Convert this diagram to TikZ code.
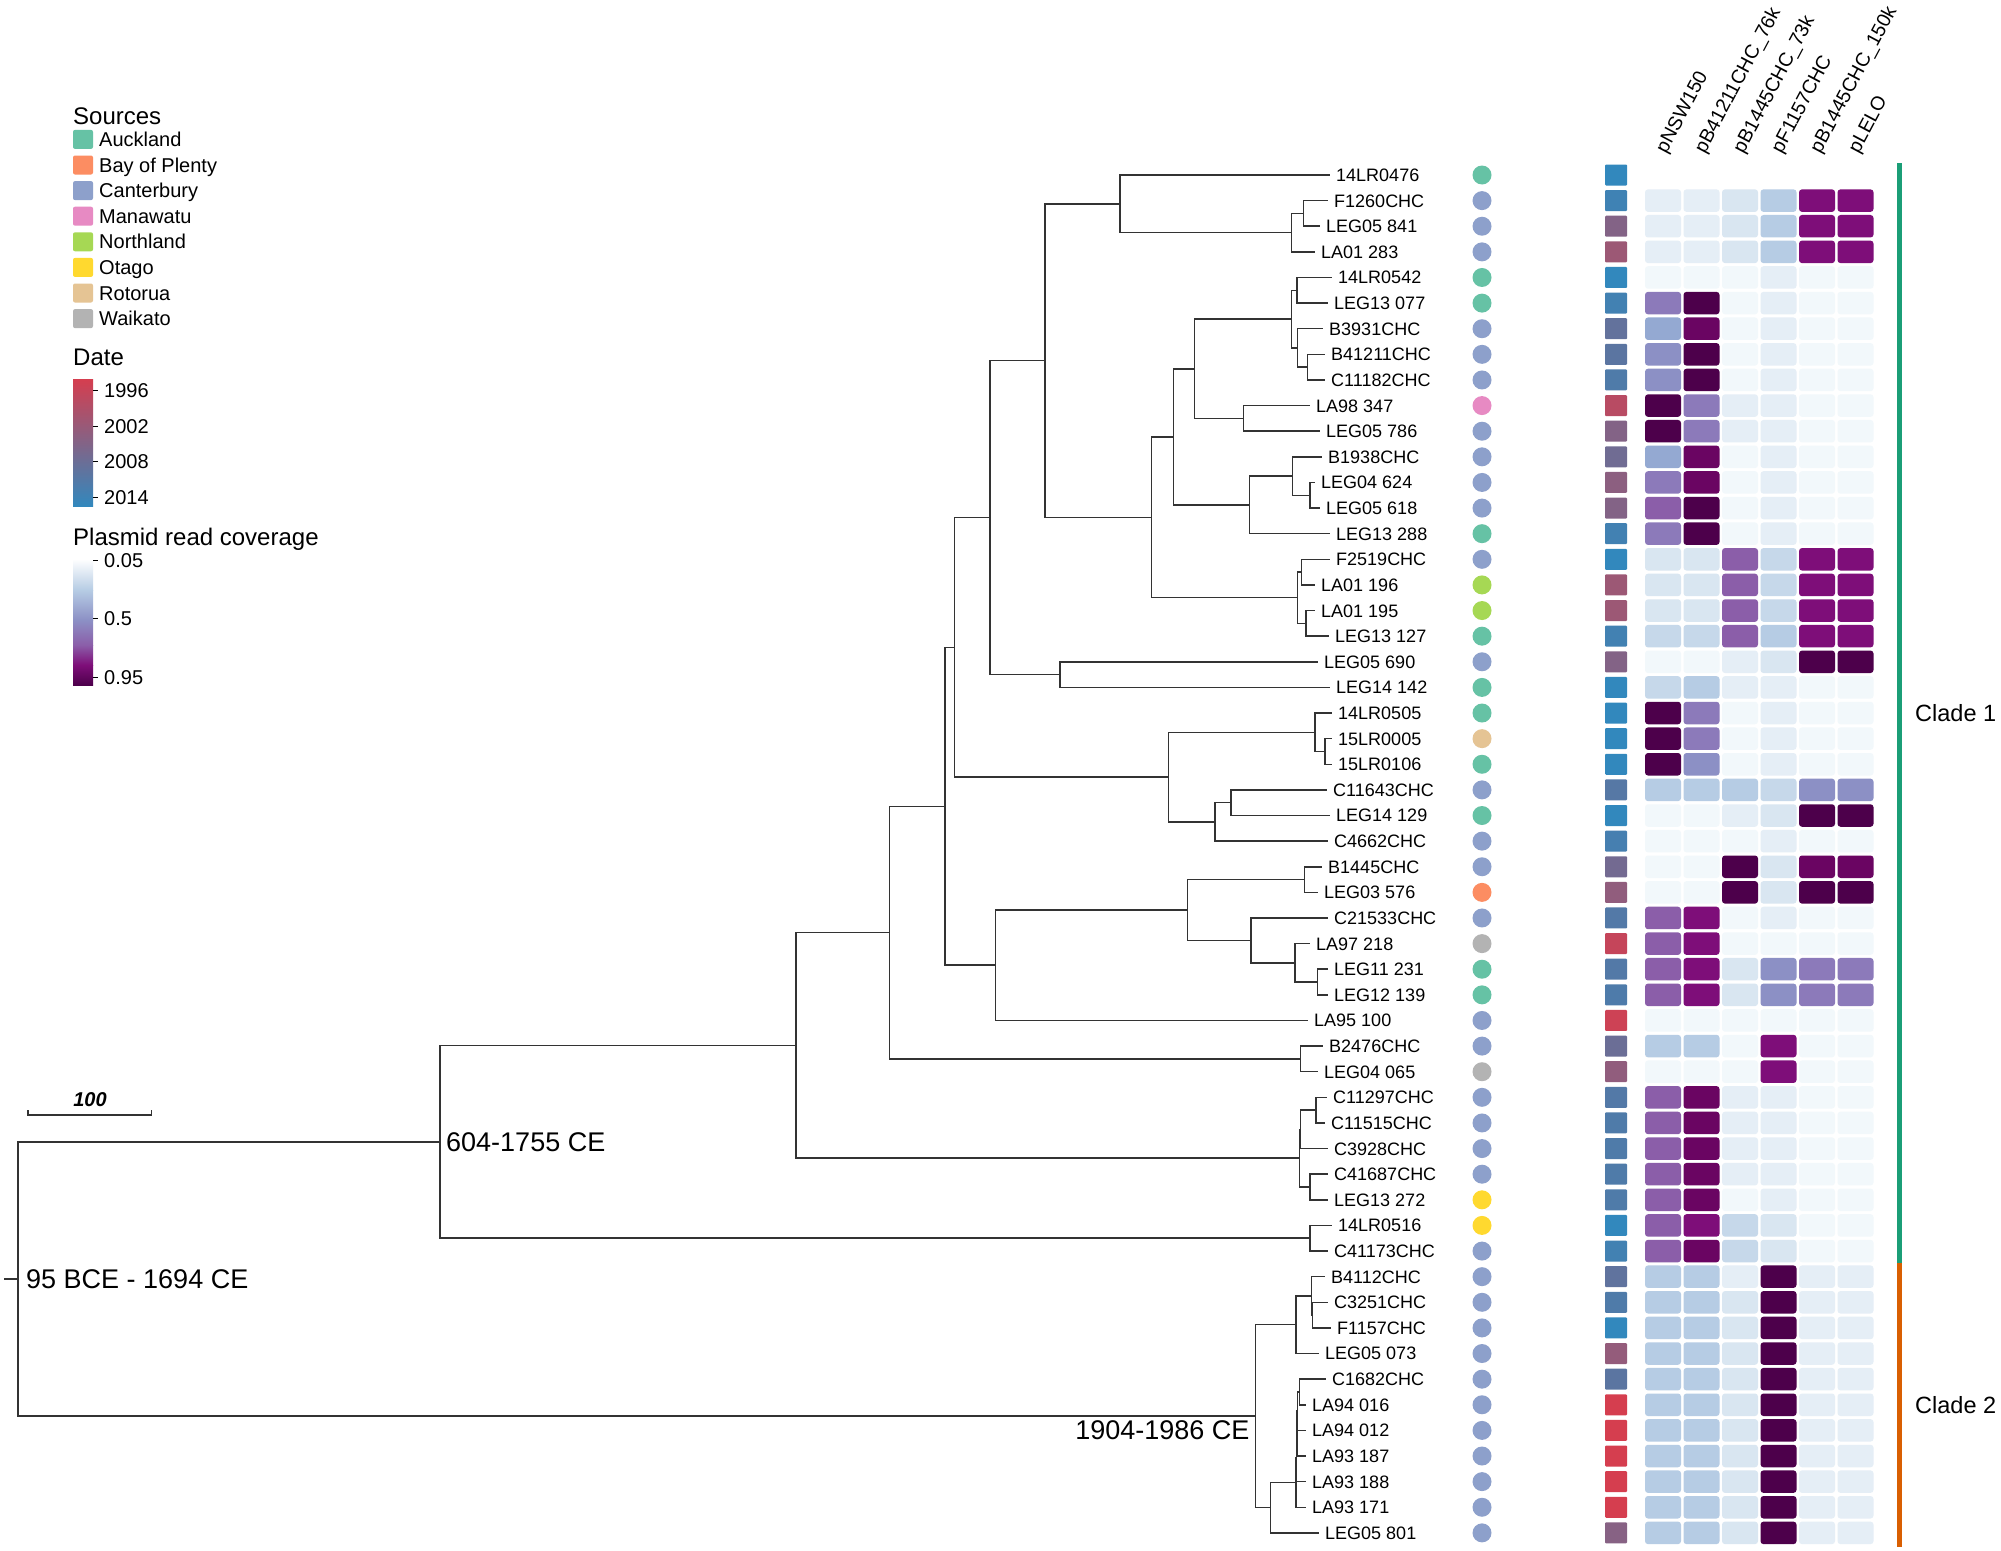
\documentclass[tikz,border=0pt]{standalone}
\usepackage{fontspec}
\setmainfont{Liberation Sans}
\usetikzlibrary{calc}
\definecolor{auk}{HTML}{66C2A5}
\definecolor{bop}{HTML}{FC8D62}
\definecolor{can}{HTML}{8DA0CB}
\definecolor{man}{HTML}{E78AC3}
\definecolor{nor}{HTML}{A6D854}
\definecolor{ota}{HTML}{FFD92F}
\definecolor{rot}{HTML}{E5C494}
\definecolor{wai}{HTML}{B3B3B3}
\definecolor{datered}{HTML}{D53E4F}
\definecolor{dateblue}{HTML}{3288BD}
\definecolor{h0}{HTML}{F2F8FB}
\definecolor{h1}{HTML}{E5EEF6}
\definecolor{h2}{HTML}{D9E6F1}
\definecolor{h3}{HTML}{C6D8EA}
\definecolor{h4}{HTML}{B6CCE4}
\definecolor{h5}{HTML}{94A9D2}
\definecolor{h6}{HTML}{8C90C5}
\definecolor{h7}{HTML}{8B5EA9}
\definecolor{h8}{HTML}{7E0E79}
\definecolor{h9}{HTML}{6A0562}
\definecolor{h10}{HTML}{4D004B}
\definecolor{h11}{HTML}{8C7ABA}
\definecolor{cladeone}{HTML}{1B9E77}
\definecolor{cladetwo}{HTML}{D95F02}
\tikzset{
  branch/.style={line width=1.5pt, black!80},
  tiplabel/.style={anchor=west, inner sep=0pt, text height=12.9pt, text depth=0pt,
    font=\fontsize{18}{20}\selectfont},
  srcdot/.style={circle, minimum size=19pt, inner sep=0pt},
  datebox/.style={rectangle, minimum width=22pt, minimum height=21pt, inner sep=0pt, rounded corners=1pt},
  cell/.style={rectangle, minimum width=36pt, minimum height=22.5pt, inner sep=0pt, rounded corners=3pt},
  collabel/.style={anchor=west, rotate=62, inner sep=0pt, font=\fontsize{19.5}{22}\selectfont},
  agelabel/.style={inner sep=0pt, text height=19.3pt, text depth=0pt, font=\fontsize{27}{30}\selectfont},
  legtitle/.style={anchor=west, inner sep=0pt, text height=17.2pt, text depth=0pt, font=\fontsize{24}{26}\selectfont},
  legtext/.style={anchor=west, inner sep=0pt, text height=14.3pt, text depth=0pt, font=\fontsize{20}{22}\selectfont},
  swatch/.style={rectangle, minimum width=20pt, minimum height=19pt, inner sep=0pt, rounded corners=2pt},
  cladebar/.style={line width=5pt},
  cladetext/.style={anchor=west, inner sep=0pt, text height=16.8pt, text depth=0pt, font=\fontsize{23.5}{26}\selectfont}
}
\begin{document}
\begin{tikzpicture}[x=1pt,y=-1pt]
\useasboundingbox[fill=white] (0,0) rectangle (2001,1550);

\node[legtitle] (srctitle) at (73,116) {Sources};
\foreach \c/\t [count=\k from 0] in {auk/Auckland, bop/Bay of Plenty, can/Canterbury, man/Manawatu,
    nor/Northland, ota/Otago, rot/Rotorua, wai/Waikato}{
  \node[swatch, fill=\c] (sw\k) at (83,139.4+25.6*\k) {};
  \node[legtext] (lt\k) at (99,139.4+25.6*\k) {\t};
}
\node[legtitle] (datetitle) at (73,357) {Date};
\shade[top color=datered, bottom color=dateblue] (73,379) rectangle (93,506);
\foreach \yv/\t [count=\k] in {390.5/1996, 426/2002, 461.7/2008, 497/2014}{
  \draw[line width=1pt] (93,\yv) -- (98,\yv);
  \node[legtext] (dt\k) at (104,\yv) {\t};
}
\node[legtitle] (covtitle) at (73,537) {Plasmid read coverage};
\shade[top color=white, bottom color=h4] (73,559) rectangle (93,590);
\shade[top color=h4, bottom color=h6] (73,590) rectangle (93,620);
\shade[top color=h6, bottom color=h7] (73,620) rectangle (93,645);
\shade[top color=h7, bottom color=h8] (73,645) rectangle (93,665);
\shade[top color=h8, bottom color=h10] (73,665) rectangle (93,685);
\foreach \yv/\t [count=\k] in {560.5/0.05, 618.7/0.5, 677/0.95}{
  \draw[line width=1pt] (93,\yv) -- (98,\yv);
  \node[legtext] (ct\k) at (104,\yv) {\t};
}

\draw[branch] (28,1110) -- (28,1115) -- (151.7,1115) -- (151.7,1110);
\node[inner sep=0pt, font=\fontsize{20}{22}\selectfont\bfseries\itshape] (scale) at (90,1100) {100};

\foreach \lab/\tx/\src/\yr [count=\i from 0] in {
  14LR0476/1330/auk/100, F1260CHC/1328/can/92, LEG05 841/1320/can/50, LA01 283/1315/can/35,
  14LR0542/1332/auk/100, LEG13 077/1328/auk/90, B3931CHC/1323/can/70, B41211CHC/1325/can/75,
  C11182CHC/1325/can/82, LA98 347/1310/man/18, LEG05 786/1320/can/50, B1938CHC/1322/can/62,
  LEG04 624/1315/can/45, LEG05 618/1320/can/50, LEG13 288/1330/auk/90, F2519CHC/1330/can/100,
  LA01 196/1315/nor/35, LA01 195/1315/nor/35, LEG13 127/1329/auk/90, LEG05 690/1318/can/50,
  LEG14 142/1330/auk/100, 14LR0505/1332/auk/100, 15LR0005/1332/rot/100, 15LR0106/1332/auk/100,
  C11643CHC/1327/can/78, LEG14 129/1330/auk/100, C4662CHC/1328/can/88, B1445CHC/1322/can/60,
  LEG03 576/1318/bop/42, C21533CHC/1328/can/80, LA97 218/1310/wai/10, LEG11 231/1328/auk/80,
  LEG12 139/1328/auk/83, LA95 100/1308/can/5, B2476CHC/1323/can/65, LEG04 065/1318/wai/42,
  C11297CHC/1327/can/80, C11515CHC/1325/can/82, C3928CHC/1328/can/82, C41687CHC/1328/can/82,
  LEG13 272/1328/ota/82, 14LR0516/1332/ota/100, C41173CHC/1328/can/90, B4112CHC/1325/can/72,
  C3251CHC/1328/can/82, F1157CHC/1331/can/100, LEG05 073/1319/can/40, C1682CHC/1326/can/75,
  LA94 016/1306/can/0, LA94 012/1306/can/0, LA93 187/1306/can/0, LA93 188/1306/can/0,
  LA93 171/1306/can/0, LEG05 801/1319/can/48}{
  \pgfmathsetmacro\yy{175+25.62*\i}
  \coordinate (t\i) at (\tx,\yy);
  \node[tiplabel] (l\i) at ($(t\i)+(6,0)$) {\lab};
  \node[srcdot, fill=\src] (s\i) at (1482,\yy) {};
  \node[datebox, fill=dateblue!\yr!datered] (d\i) at (1616,\yy) {};
}

\foreach \n/\nx/\ny in {nRoot/18/1278.99, n604/440/1141.81, nP5/796/1045.38, nP4/889.3/932.58,
  nP3/945/806.27, nP2/954.3/647.32, nP1/990/517.57, nD/1045/360.54, nA/1120/203.82,
  nB/1291.7/232.65, nC/1303.3/213.43, nE/1151.7/517.27, nF/1173.3/436.80, nG/1194.3/368.75,
  nH/1291.7/319.11, nH1/1297/290.29, nH2/1297.7/347.94, nH3/1307.3/367.15, nJ/1243.3/418.39,
  nK/1249.3/504.86, nK1/1292.3/476.04, nK2/1310/495.25, nQ/1297.7/597.73, nQ1/1301.7/572.11,
  nQ2/1306/623.35, nW/1060/674.59, nR/1168.3/777.07, nR1/1315/732.24, nR1a/1325/751.45,
  nR2/1215/821.91, nR2a/1231/802.69, nS/995.7/965.22, nS1/1187.3/909.97, nS1a/1304.3/879.55,
  nS1b/1251/940.40, nS1c/1295/962.82, nS1d/1317.7/982.03, nV/1300.7/1058.89, nT/1299.3/1158.17,
  nT1/1316/1110.13, nT2/1310/1186.99, nT3/1300.5/1129.35, nU/1310/1238.23, nX/1255.7/1416.17,
  nX1/1296/1324.70, nX2/1311.7/1295.88, nX2b/1312.7/1315.09, nX3/1270.7/1507.64,
  nX4/1296/1482.42, nX9/1296.5/1457.60, nX8/1297/1433.58, nX7/1297.5/1411.17, nX6/1299.3/1391.95}
  \coordinate (\n) at (\nx,\ny);

\coordinate (rootin) at (4,1278.99);
\draw[branch] (rootin) -- (nRoot);
\foreach \p/\c in {nRoot/n604, nRoot/nX, n604/nP5, n604/nU, nP5/nP4, nP5/nT, nP4/nP3, nP4/nV,
  nP3/nP2, nP3/nS, nP2/nP1, nP2/nR, nP1/nD, nP1/nW, nD/nA, nD/nE,
  nA/t0, nA/nB, nB/nC, nB/t3, nC/t1, nC/t2, nE/nF, nE/nQ, nF/nG, nF/nK, nG/nH, nG/nJ,
  nH/nH1, nH/nH2, nH1/t4, nH1/t5, nH2/t6, nH2/nH3, nH3/t7, nH3/t8, nJ/t9, nJ/t10,
  nK/nK1, nK/t14, nK1/t11, nK1/nK2, nK2/t12, nK2/t13,
  nQ/nQ1, nQ/nQ2, nQ1/t15, nQ1/t16, nQ2/t17, nQ2/t18, nW/t19, nW/t20,
  nR/nR1, nR/nR2, nR1/t21, nR1/nR1a, nR1a/t22, nR1a/t23, nR2/nR2a, nR2/t26, nR2a/t24, nR2a/t25,
  nS/nS1, nS/t33, nS1/nS1a, nS1/nS1b, nS1a/t27, nS1a/t28, nS1b/t29, nS1b/nS1c,
  nS1c/t30, nS1c/nS1d, nS1d/t31, nS1d/t32, nV/t34, nV/t35,
  nT/nT3, nT/nT2, nT3/nT1, nT3/t38, nT1/t36, nT1/t37, nT2/t39, nT2/t40, nU/t41, nU/t42,
  nX/nX1, nX/nX3, nX1/nX2, nX1/t46, nX2/t43, nX2/nX2b, nX2b/t44, nX2b/t45,
  nX3/nX4, nX3/t53, nX4/nX9, nX4/t52, nX9/nX8, nX9/t51, nX8/nX7, nX8/t50,
  nX7/nX6, nX7/t49, nX6/t47, nX6/t48}
  \draw[branch] (\p) |- (\c);

\node[agelabel, anchor=west] (ageroot) at ($(nRoot)+(8,0)$) {95 BCE - 1694 CE};
\node[agelabel, anchor=west] (agemid) at ($(n604)+(6,0)$) {604-1755 CE};
\node[agelabel, anchor=east] (agelow) at ($(nX)+(-6,14)$) {1904-1986 CE};

\foreach \t [count=\j from 0] in {pNSW150, pB41211CHC\_76k, pB1445CHC\_73k, pF1157CHC,
    pB1445CHC\_150k, pLELO}
  \node[collabel] (col\j) at (1662+38.5*\j,152) {\t};

\foreach \i/\vals in {1/{1,1,2,4,8,8}, 2/{1,1,2,4,8,8}, 3/{1,1,2,4,8,8}, 4/{0,0,0,1,0,0},
  5/{11,10,0,1,0,0}, 6/{5,9,0,1,0,0}, 7/{6,10,0,1,0,0}, 8/{6,10,0,1,0,0},
  9/{10,11,1,1,0,0}, 10/{10,11,1,1,0,0}, 11/{5,9,0,1,0,0}, 12/{11,9,0,1,0,0},
  13/{7,10,0,1,0,0}, 14/{11,10,0,1,0,0}, 15/{2,2,7,3,8,8}, 16/{2,2,7,3,8,8},
  17/{2,2,7,3,8,8}, 18/{3,3,7,4,8,8}, 19/{0,0,1,2,10,10}, 20/{3,4,1,1,0,0},
  21/{10,11,0,1,0,0}, 22/{10,11,0,1,0,0}, 23/{10,6,0,1,0,0}, 24/{4,4,4,3,6,6},
  25/{0,0,1,2,10,10}, 26/{0,0,0,1,0,0}, 27/{0,0,10,2,9,9}, 28/{0,0,10,2,10,10},
  29/{7,8,0,1,0,0}, 30/{7,8,0,0,0,0}, 31/{7,8,2,6,11,11}, 32/{7,8,2,6,11,11},
  33/{0,0,0,0,0,0}, 34/{4,4,0,8,0,0}, 35/{0,0,0,8,0,0}, 36/{7,9,1,1,0,0},
  37/{7,9,1,1,0,0}, 38/{7,9,1,1,0,0}, 39/{7,9,1,1,0,0}, 40/{7,9,0,1,0,0},
  41/{7,8,3,2,0,0}, 42/{7,9,3,2,0,0}, 43/{4,4,1,10,1,1}, 44/{4,4,2,10,1,1},
  45/{4,4,2,10,1,1}, 46/{4,4,2,10,1,1}, 47/{4,4,2,10,1,1}, 48/{4,4,2,10,1,1},
  49/{4,4,2,10,1,1}, 50/{4,4,2,10,1,1}, 51/{4,4,2,10,1,1}, 52/{4,4,2,10,1,1},
  53/{4,4,2,10,1,1}}
  \foreach \v [count=\j from 0] in \vals {
    \pgfmathsetmacro\yy{175+25.62*\i}
    \node[cell, fill=h\v] (c\i-\j) at (1663+38.5*\j,\yy) {};
  }

\coordinate (cladetop) at (1899,163);
\coordinate (cladesplit) at (1899,1263);
\coordinate (cladeend) at (1899,1547);
\draw[cladebar, cladeone] (cladetop) -- (cladesplit);
\draw[cladebar, cladetwo] (cladesplit) -- (cladeend);
\node[cladetext] (cladeA) at (1915,713) {Clade 1};
\node[cladetext] (cladeB) at (1915,1405) {Clade 2};
\end{tikzpicture}
\end{document}
